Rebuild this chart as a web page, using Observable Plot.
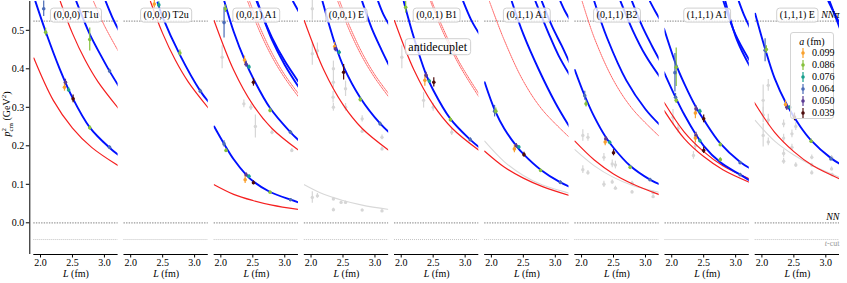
<!DOCTYPE html>
<html><head><meta charset="utf-8">
<script src="https://cdn.jsdelivr.net/npm/d3@7"></script>
<script src="https://cdn.jsdelivr.net/npm/@observablehq/plot@0.6"></script>
<style>
body{margin:0;background:#fff;}
#wrap{position:relative;width:847px;height:283px;}
#legend{position:absolute;left:790px;top:32px;width:44px;height:87px;box-sizing:border-box;border:1px solid #d4d4d4;border-radius:3px;background:rgba(255,255,255,0.8);font-family:"Liberation Serif",serif;font-size:10px;color:#000;}
#legend .lt{position:absolute;left:0;width:100%;top:3px;height:12px;line-height:12px;text-align:center;}
#legend .row{position:absolute;left:0;height:12px;line-height:12px;width:100%;}
#legend .row svg{position:absolute;left:8px;top:1px;}
#legend .row span{position:absolute;left:21px;top:0;}
</style></head><body><div id="wrap"><div id="legend"></div></div>
<script>
const panels = ["(0,0,0) T1u","(0,0,0) T2u","(0,0,1) A1","(0,0,1) E","(0,0,1) B1","(0,1,1) A1","(0,1,1) B2","(1,1,1) A1","(1,1,1) E"];
const aLabels = ["0.099","0.086","0.076","0.064","0.050","0.039"];
const aColors = ["#f9a12e","#86c13c","#19a08e","#4b6cb7","#5b3a93","#4d0b0b"];
const xTicks = [2.0, 2.5, 3.0];
const yTicks = [0, 0.1, 0.2, 0.3, 0.4, 0.5];
const xDomain = [1.895, 3.214];
const yDomain = [-0.0823, 0.5748];
const thresholds = [{name: "NNπ", value: 0.5237}, {name: "NN", value: 0}, {name: "t-cut", value: -0.0434}];
const annotations = [{panel: 4, L: 2.57, v: 0.457, text: "antidecuplet"}];

// interacting (fitted) levels: [panel, [[L, p2], ...]]
const blueCurves = [
  [0, [[1.92,0.575],[2.08,0.497],[2.3,0.40],[2.5,0.325],[2.77,0.248],[3.08,0.195],[3.22,0.176]]],
  [0, [[2.56,0.575],[2.77,0.49],[2.95,0.433],[3.08,0.394],[3.22,0.356]]],
  [0, [[3.02,0.575],[3.12,0.535],[3.22,0.501]]],
  [1, [[2.42,0.572],[2.5,0.534],[2.77,0.436],[3.09,0.342],[3.22,0.314]]],
  [2, [[1.895,0.25],[2.05,0.205],[2.2,0.165],[2.4,0.124],[2.51,0.107],[2.77,0.08],[3.09,0.06],[3.22,0.053]]],
  [2, [[2.05,0.578],[2.2,0.497],[2.38,0.42],[2.51,0.374],[2.77,0.298],[3.09,0.235],[3.22,0.214]]],
  [2, [[2.56,0.575],[2.8,0.481],[3.0,0.42],[3.22,0.365]]],
  [2, [[2.57,0.575],[2.8,0.475],[3.0,0.41],[3.22,0.352]]],
  [2, [[3.13,0.575],[3.22,0.548]]],
  [3, [[2.18,0.575],[2.3,0.505],[2.38,0.462],[2.51,0.405],[2.77,0.325],[3.08,0.258],[3.22,0.235]]],
  [3, [[2.80,0.575],[2.95,0.505],[3.1,0.45],[3.22,0.409]]],
  [3, [[3.05,0.575],[3.13,0.542],[3.22,0.515]]],
  [4, [[2.04,0.575],[2.2,0.48],[2.39,0.385],[2.5,0.345],[2.77,0.27],[3.08,0.216],[3.22,0.196]]],
  [4, [[2.97,0.575],[3.1,0.525],[3.22,0.491]]],
  [5, [[1.895,0.365],[2.06,0.29],[2.2,0.245],[2.39,0.2],[2.51,0.177],[2.77,0.138],[3.08,0.105],[3.22,0.094]]],
  [5, [[2.32,0.575],[2.5,0.49],[2.75,0.395],[3.0,0.312],[3.22,0.25]]],
  [5, [[2.69,0.575],[2.9,0.49],[3.05,0.435],[3.22,0.385]]],
  [5, [[2.79,0.575],[2.95,0.51],[3.1,0.46],[3.22,0.417]]],
  [5, [[3.08,0.575],[3.15,0.55],[3.22,0.53]]],
  [6, [[1.895,0.397],[2.05,0.33],[2.2,0.275],[2.38,0.222],[2.5,0.195],[2.76,0.148],[3.07,0.112],[3.22,0.1]]],
  [6, [[2.2,0.575],[2.4,0.48],[2.7,0.37],[3.0,0.295],[3.22,0.255]]],
  [6, [[2.61,0.575],[2.8,0.5],[3.0,0.435],[3.22,0.38]]],
  [6, [[2.79,0.575],[2.95,0.51],[3.1,0.46],[3.22,0.423]]],
  [6, [[3.07,0.575],[3.15,0.55],[3.22,0.53]]],
  [7, [[1.88,0.391],[2.06,0.326],[2.2,0.28],[2.38,0.229],[2.5,0.2],[2.76,0.157],[3.07,0.125],[3.22,0.11]]],
  [7, [[1.88,0.504],[2.07,0.41],[2.2,0.36],[2.38,0.3],[2.5,0.268],[2.76,0.206],[3.07,0.158],[3.22,0.142]]],
  [7, [[2.81,0.575],[3.0,0.488],[3.22,0.421]]],
  [7, [[2.84,0.575],[3.02,0.475],[3.22,0.407]]],
  [7, [[3.05,0.575],[3.13,0.54],[3.22,0.508]]],
  [8, [[1.895,0.543],[2.05,0.452],[2.2,0.375],[2.38,0.31],[2.6,0.25],[2.77,0.214],[3.08,0.168],[3.22,0.153]]],
  [8, [[3.04,0.575],[3.13,0.545],[3.22,0.518]]],
  [8, [[3.06,0.575],[3.14,0.54],[3.22,0.505]]]
];
// non-interacting levels
const redCurves = [
  [0, [[1.895,0.428],[2.2,0.318],[2.5,0.246],[2.8,0.196],[3.22,0.148]]],
  [0, [[2.31,0.575],[2.5,0.492],[2.7,0.422],[2.9,0.366],[3.22,0.297]]],
  [1, [[2.31,0.575],[2.5,0.492],[2.7,0.422],[2.9,0.366],[3.22,0.297]]],
  [2, [[1.895,0.099],[2.2,0.074],[2.5,0.058],[2.8,0.046],[3.22,0.0345]]],
  [2, [[1.895,0.525],[2.2,0.397],[2.5,0.307],[2.8,0.245],[3.22,0.188]]],
  [3, [[1.895,0.525],[2.2,0.397],[2.5,0.307],[2.8,0.245],[3.22,0.188]]],
  [4, [[1.895,0.525],[2.2,0.397],[2.5,0.307],[2.8,0.245],[3.22,0.188]]],
  [5, [[1.895,0.186],[2.2,0.145],[2.5,0.116],[2.8,0.094],[3.22,0.071]]],
  [6, [[1.895,0.212],[2.2,0.163],[2.5,0.127],[2.8,0.101],[3.22,0.073]]],
  [7, [[1.88,0.313],[2.2,0.235],[2.5,0.185],[2.8,0.148],[3.22,0.114]]],
  [7, [[1.88,0.292],[2.2,0.218],[2.5,0.172],[2.8,0.138],[3.22,0.105]]],
  [8, [[1.88,0.313],[2.2,0.235],[2.5,0.185],[2.8,0.148],[3.22,0.114]]]
];
const redDotted = [
  [0, [[2.83,0.575],[3.0,0.512],[3.22,0.445]]],
  [2, [[2.45,0.575],[2.6,0.512],[2.8,0.441],[3.0,0.384],[3.22,0.334]]],
  [2, [[2.42,0.575],[2.6,0.50],[2.8,0.431],[3.0,0.376],[3.22,0.326]]],
  [3, [[2.45,0.575],[2.6,0.512],[2.8,0.441],[3.0,0.384],[3.22,0.334]]],
  [3, [[2.42,0.575],[2.6,0.50],[2.8,0.431],[3.0,0.376],[3.22,0.326]]],
  [4, [[2.48,0.575],[2.61,0.522],[2.9,0.42],[3.22,0.334]]],
  [4, [[2.46,0.575],[2.61,0.512],[2.9,0.412],[3.22,0.326]]],
  [5, [[1.97,0.575],[2.2,0.475],[2.5,0.368],[2.8,0.293],[3.22,0.222]]],
  [6, [[2.01,0.575],[2.2,0.48],[2.5,0.37],[2.8,0.295],[3.22,0.224]]]
];
const grayCurves = [
  [3, [[1.895,0.099],[2.2,0.074],[2.5,0.058],[2.8,0.046],[3.22,0.0345]]],
  [5, [[1.895,0.212],[2.2,0.159],[2.5,0.123],[2.8,0.098],[3.22,0.077]]],
  [6, [[1.895,0.19],[2.2,0.148],[2.5,0.118],[2.8,0.097],[3.22,0.079]]],
  [8, [[1.895,0.266],[2.2,0.212],[2.5,0.176],[2.8,0.148],[3.22,0.118]]]
];
// lattice energy levels: [panel, a index, L, p2, err]
const points = [
  [0,3,2.05,0.556,0.02],[0,1,2.08,0.495,0.01],[0,4,2.39,0.365,0.008],[0,0,2.375,0.352,0.01],[0,2,2.44,0.345,0.006],[0,5,2.51,0.322,0.01],[0,1,2.77,0.247,0.006],[0,3,3.08,0.196,0.004],[0,1,2.77,0.476,0.03],[0,3,3.08,0.394,0.005],
  [1,1,2.77,0.441,0.008],[1,3,3.09,0.342,0.005],[1,0,2.37,0.568,0.01],[1,2,2.44,0.566,0.008],
  [2,3,2.05,0.205,0.008],[2,1,2.08,0.188,0.005],[2,4,2.395,0.125,0.005],[2,0,2.38,0.112,0.01],[2,2,2.44,0.121,0.004],[2,5,2.51,0.104,0.005],[2,1,2.77,0.0795,0.003],[2,3,3.09,0.06,0.003],
  [2,1,2.07,0.556,0.01],[2,3,2.05,0.52,0.04],[2,0,2.37,0.423,0.01],[2,4,2.395,0.412,0.008],[2,2,2.44,0.405,0.005],[2,5,2.51,0.365,0.01],[2,1,2.77,0.292,0.006],[2,3,3.09,0.235,0.005],
  [3,0,2.37,0.458,0.01],[3,4,2.38,0.452,0.008],[3,2,2.44,0.443,0.005],[3,5,2.51,0.391,0.02],[3,1,2.77,0.32,0.006],[3,3,3.08,0.257,0.005],
  [4,1,2.07,0.56,0.015],[4,4,2.39,0.383,0.008],[4,0,2.37,0.37,0.015],[4,2,2.44,0.368,0.005],[4,5,2.51,0.365,0.012],[4,1,2.77,0.268,0.006],[4,3,3.08,0.216,0.005],
  [5,3,2.05,0.29,0.015],[5,1,2.07,0.29,0.008],[5,4,2.39,0.2,0.006],[5,0,2.36,0.192,0.01],[5,2,2.43,0.197,0.004],[5,5,2.51,0.177,0.006],[5,1,2.77,0.136,0.004],[5,3,3.08,0.105,0.004],
  [6,3,2.05,0.33,0.012],[6,1,2.07,0.309,0.008],[6,4,2.38,0.218,0.006],[6,0,2.37,0.21,0.01],[6,2,2.44,0.209,0.004],[6,5,2.50,0.182,0.008],[6,1,2.76,0.144,0.004],[6,3,3.07,0.112,0.004],
  [7,3,2.06,0.326,0.01],[7,1,2.07,0.318,0.008],[7,4,2.38,0.227,0.008],[7,0,2.37,0.22,0.012],[7,2,2.44,0.213,0.005],[7,5,2.50,0.188,0.008],[7,1,2.76,0.164,0.005],[7,3,3.07,0.125,0.004],
  [7,1,2.07,0.404,0.05],[7,3,2.05,0.39,0.05],[7,4,2.38,0.296,0.008],[7,0,2.37,0.285,0.015],[7,2,2.44,0.29,0.005],[7,5,2.50,0.27,0.01],[7,1,2.76,0.203,0.005],[7,3,3.07,0.156,0.004],
  [8,3,2.05,0.448,0.03],[8,1,2.07,0.45,0.01],[8,4,2.39,0.30,0.008],[8,0,2.37,0.307,0.01],[8,2,2.44,0.30,0.005],[8,5,2.51,0.275,0.01],[8,1,2.77,0.212,0.006],[8,3,3.08,0.166,0.004]
];
// levels not shown in colour: [panel, L, p2, err]
const grayPoints = [
  [2,2.02,0.43,0.03],[2,2.36,0.309,0.01],[2,2.47,0.30,0.008],[2,2.54,0.25,0.03],[2,2.8,0.235,0.006],[2,3.11,0.188,0.005],
  [3,2.02,0.556,0.03],[3,2.02,0.439,0.03],[3,2.10,0.447,0.02],[3,2.35,0.40,0.02],[3,2.35,0.365,0.015],[3,2.345,0.326,0.015],[3,2.35,0.30,0.01],[3,2.54,0.348,0.02],[3,2.54,0.30,0.01],[3,2.8,0.27,0.008],[3,2.8,0.238,0.006],[3,3.11,0.222,0.006],[3,3.11,0.192,0.005],
  [3,2.02,0.066,0.015],[3,2.1,0.07,0.006],[3,2.35,0.062,0.004],[3,2.35,0.034,0.004],[3,2.47,0.053,0.003],[3,2.54,0.053,0.003],[3,2.8,0.033,0.003],[3,3.11,0.031,0.003],
  [4,2.01,0.43,0.03],[4,2.35,0.318,0.02],[4,2.5,0.30,0.01],[4,2.79,0.235,0.008],
  [6,2.02,0.227,0.015],[6,2.1,0.222,0.01],[6,2.02,0.138,0.01],[6,2.1,0.13,0.006],[6,2.35,0.17,0.01],[6,2.35,0.10,0.008],[6,2.48,0.153,0.01],[6,2.53,0.15,0.01],[6,2.48,0.106,0.005],[6,2.53,0.09,0.005],[6,2.79,0.103,0.005],[6,2.79,0.08,0.004],[6,3.12,0.078,0.004],[6,3.12,0.068,0.004],
  [7,2.02,0.274,0.02],[7,2.1,0.245,0.012],[7,2.34,0.175,0.01],[7,2.37,0.2,0.01],
  [8,2.02,0.318,0.04],[8,2.02,0.28,0.02],[8,2.02,0.227,0.03],[8,2.1,0.357,0.015],[8,2.1,0.267,0.015],[8,2.1,0.21,0.01],[8,2.34,0.257,0.01],[8,2.34,0.22,0.01],[8,2.34,0.18,0.01],[8,2.34,0.16,0.008],[8,2.47,0.231,0.01],[8,2.47,0.196,0.008],[8,2.53,0.25,0.01],[8,2.53,0.15,0.006],[8,2.78,0.17,0.006],[8,2.78,0.15,0.005],[8,2.78,0.13,0.005],[8,3.09,0.17,0.005],[8,3.09,0.14,0.005],[8,3.1,0.125,0.004]
];

const flat = (curves, kind) => curves.flatMap(([p, pts], i) => pts.map(([L, v]) => ({panel: panels[p], L, v, id: kind + i})));
const pts = points.map(([p, a, L, v, e]) => ({panel: panels[p], a: aLabels[a], L, v, e}));
const gpts = grayPoints.map(([p, L, v, e]) => ({panel: panels[p], L, v, e}));
const ann = annotations.map(d => ({...d, panel: panels[d.panel]}));
const last = panels[panels.length - 1];
const f1 = d3.format(".1f");

const plot = Plot.plot({
  width: 847, height: 283,
  marginLeft: 33.3, marginRight: 8, marginTop: 1, marginBottom: 29,
  style: {fontFamily: "'Liberation Serif', serif", fontSize: "10px", background: "white", color: "black"},
  fx: {domain: panels, axis: null, paddingInner: 0.065, paddingOuter: 0, round: false, label: null},
  x: {domain: xDomain, label: null},
  y: {domain: yDomain, label: null},
  color: {domain: aLabels, range: aColors},
  marks: [
    Plot.ruleY(thresholds.slice(0, 2), {y: "value", stroke: "#9a9a9a", strokeWidth: 1.3, strokeDasharray: "1.4,1.2"}),
    Plot.ruleY(thresholds.slice(2), {y: "value", stroke: "#bdbdbd", strokeWidth: 0.9, strokeDasharray: "1,1"}),
    Plot.line(flat(grayCurves, "g"), {fx: "panel", x: "L", y: "v", z: "id", stroke: "#d8d8d8", strokeWidth: 1.1, curve: "catmull-rom", clip: true}),
    Plot.ruleX(gpts, {fx: "panel", x: "L", y1: d => d.v - d.e, y2: d => d.v + d.e, stroke: "#d6d6d6", strokeWidth: 1.2}),
    Plot.dot(gpts, {fx: "panel", x: "L", y: "v", r: 1.7, fill: "#d6d6d6"}),
    Plot.line(flat(redCurves, "r"), {fx: "panel", x: "L", y: "v", z: "id", stroke: "#f52020", strokeWidth: 1.2, curve: "catmull-rom", clip: true}),
    Plot.line(flat(redDotted, "d"), {fx: "panel", x: "L", y: "v", z: "id", stroke: "#ff5050", strokeWidth: 0.9, strokeDasharray: "1,1", curve: "catmull-rom", clip: true}),
    Plot.line(flat(blueCurves, "b"), {fx: "panel", x: "L", y: "v", z: "id", stroke: "#0010ff", strokeWidth: 1.9, curve: "catmull-rom", clip: true}),
    Plot.ruleX(pts, {fx: "panel", x: "L", y1: d => d.v - d.e, y2: d => d.v + d.e, stroke: "a", strokeWidth: 1.2}),
    Plot.dot(pts, {fx: "panel", x: "L", y: "v", r: 1.8, fill: "a"}),
    Plot.ruleY([yDomain[0]], {stroke: "black", strokeWidth: 1}),
    Plot.ruleX([xDomain[0]], {fx: () => panels[0], stroke: "black", strokeWidth: 1, dx: -4}),
    Plot.axisX({ticks: xTicks, tickFormat: f1, tickSize: 3.5, tickPadding: 1, label: null}),
    Plot.axisY({ticks: yTicks, tickFormat: f1, tickSize: 3.5, tickPadding: 2, dx: -4, label: null}),
    Plot.text(panels, {fx: d => d, text: d => d, frameAnchor: "top", dy: 9.5}),
    Plot.text(ann, {fx: "panel", x: "L", y: "v", text: "text", fontSize: 12}),
    Plot.text(panels, {fx: d => d, text: () => "L (fm)", frameAnchor: "bottom", dy: 22}),
    Plot.text(thresholds.slice(0, 2), {fx: () => last, y: "value", text: "name", frameAnchor: "right", textAnchor: "end", dy: -6, fontStyle: "italic"}),
    Plot.text(thresholds.slice(2), {fx: () => last, y: "value", text: "name", frameAnchor: "right", textAnchor: "end", dy: 4, fontSize: 8, fill: "#999"})
  ]
});
const wrap = document.getElementById("wrap");
wrap.insertBefore(plot, wrap.firstChild);
const svg = d3.select(plot);
const boxed = new Set([...panels, ...annotations.map(d => d.text)]);

svg.selectAll("text").each(function() {
  const s = this.textContent;
  if (boxed.has(s)) {
    const b = this.getBBox();
    d3.select(this.parentNode).insert("rect", () => this)
      .attr("transform", this.getAttribute("transform"))
      .attr("x", b.x - 3).attr("y", b.y - 1).attr("width", b.width + 6).attr("height", b.height + 2)
      .attr("rx", 3).attr("fill", "white").attr("fill-opacity", 0.8).attr("stroke", "#d0d0d0").attr("stroke-width", 1);
  } else if (s === "L (fm)") {
    const t = d3.select(this).text(null);
    t.append("tspan").attr("font-style", "italic").text("L");
    t.append("tspan").text(" (fm)");
  } else if (s === "t-cut") {
    const t = d3.select(this).text(null);
    t.append("tspan").attr("font-style", "italic").text("t");
    t.append("tspan").text("-cut");
  }
});
// y label
const yl = svg.append("text").attr("transform", "translate(10,114) rotate(-90)").attr("text-anchor", "middle")
  .attr("font-family", "'Liberation Serif', serif").attr("font-size", 10).attr("fill", "black");
yl.append("tspan").attr("font-style", "italic").text("p");
yl.append("tspan").attr("font-size", 7).attr("dy", -4).text("2");
yl.append("tspan").attr("font-size", 7).attr("dx", -3.5).attr("dy", 7).text("cm");
yl.append("tspan").attr("dy", -3).text(" (GeV");
yl.append("tspan").attr("font-size", 7).attr("dy", -4).text("2");
yl.append("tspan").attr("dy", 4).text(")");

// legend
const lg = d3.select("#legend");
const lt = lg.append("div").attr("class", "lt");
lt.append("i").text("a");
lt.append("span").text(" (fm)");
aLabels.forEach((lab, i) => {
  const row = lg.append("div").attr("class", "row").style("top", (14 + 12 * i) + "px");
  const s = row.append("svg").attr("width", 8).attr("height", 10);
  s.append("line").attr("x1", 4).attr("x2", 4).attr("y1", 0).attr("y2", 10).attr("stroke", aColors[i]).attr("stroke-width", 1.2);
  s.append("circle").attr("cx", 4).attr("cy", 5).attr("r", 1.8).attr("fill", aColors[i]);
  row.append("span").text(lab);
});
</script></body></html>
